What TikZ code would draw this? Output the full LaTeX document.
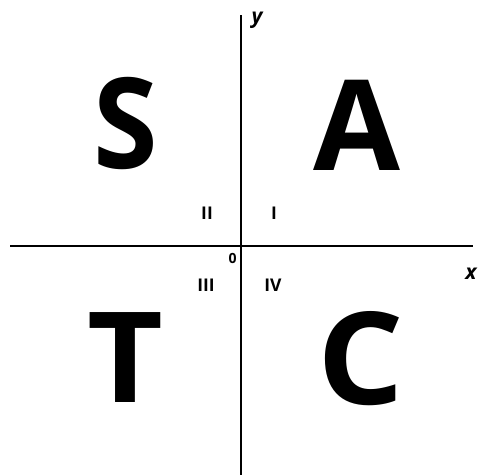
\documentclass[tikz,border=0pt]{standalone}
\usepackage{fontspec}
\setmainfont{Open Sans}
\begin{document}
\begin{tikzpicture}[x=1pt,y=-1pt,
  axis/.style={line width=1.4pt, black},
  big/.style={anchor=base, inner sep=0pt, font=\fontsize{126}{126}\selectfont\bfseries},
  quad/.style={anchor=base, inner sep=0pt, font=\fontsize{17.5}{18}\selectfont\bfseries},
  axlabel/.style={anchor=base, inner sep=0pt, font=\fontsize{21}{22}\selectfont\bfseries\itshape}]
\useasboundingbox (0,0) rectangle (479,475);
\coordinate (xl) at (10,246);
\coordinate (xr) at (473,246);
\coordinate (yt) at (241,15);
\coordinate (yb) at (241,475);
\draw[axis] (xl) -- (xr);
\draw[axis] (yt) -- (yb);
\node[axlabel] (ylab) at (257,23) {y};
\node[axlabel] (xlab) at (471,279) {x};
\node[anchor=base, inner sep=0pt, font=\fontsize{14}{14}\selectfont\bfseries] (zero) at (232.5,263) {0};
\node[quad] (q1) at (274,219) {I};
\node[quad] (q2) at (207,219) {II};
\node[quad] (q3) at (206,291) {III};
\node[quad] (q4) at (273,291) {IV};
\node[big] (S) at (125.5,168) {\scalebox{0.93}[1]{S}};
\node[big] (A) at (357,170) {A};
\node[big] (T) at (125.5,402) {\scalebox{1.04}[1]{T}};
\node[big] (C) at (361,404) {\scalebox{1.08}[1.02]{C}};
\end{tikzpicture}
\end{document}
